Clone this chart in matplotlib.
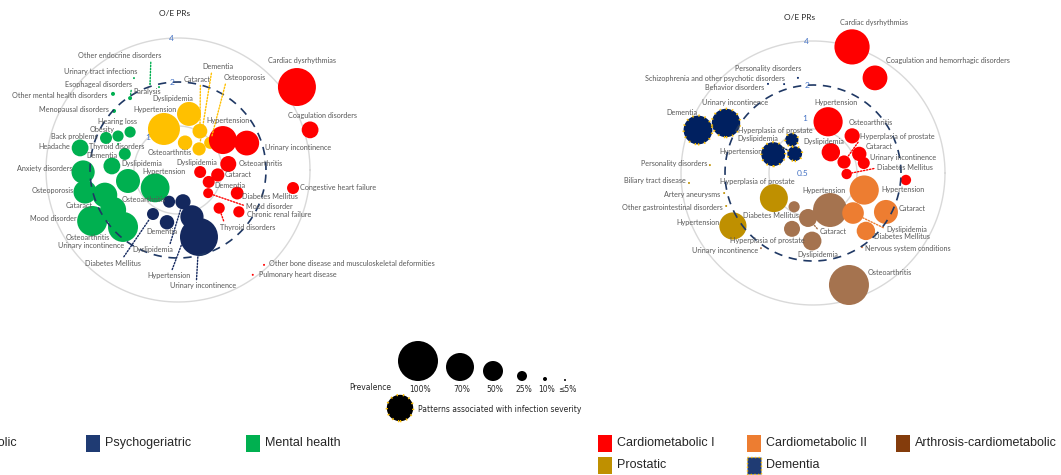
import numpy as np
import matplotlib.pyplot as plt
from matplotlib.patches import Rectangle

W, H = 1061, 475
PX = 0.72  # points per pixel at dpi 100

LABEL_FONT = ['Lato', 'DejaVu Sans']
LEGEND_FONT = ['Liberation Sans', 'DejaVu Sans']
TXT_GREY = '#595959'

# ---------------- left chart ----------------
# Cardiometabolic (red)
l_red_names = ['Cardiac dysrhythmias', 'Coagulation disorders', 'Hypertension', 'Urinary incontinence',
               'Osteoarthritis', 'Dyslipidemia', 'Cataract', 'Dementia', 'Mood disorder',
               'Diabetes Mellitus', 'Thyroid disorders', 'Chronic renal failure',
               'Congestive heart failure', 'Other bone disease and musculoskeletal deformities',
               'Pulmonary heart disease']
l_red_angle = [34.9, 16.9, 33.7, 21.4, 6.8, -5.2, -7.1, -21.2, -37.5, -21.3, -42.8, -34.5, -8.9, -47.8, -54.5]
l_red_oe = [4.91, 4.40, 1.17, 1.60, 1.11, 0.71, 0.94, 0.84, 0.91, 1.36, 1.21, 1.60, 3.13, 3.76, 3.80]
l_red_prev = [95, 42, 70, 62, 40, 30, 33, 30, 25, 32, 28, 28, 30, 5, 5]

# yellow group
l_yel_names = ['Hypertension', 'Dyslipidemia', 'Osteoarthritis', 'Cataract', 'Dementia', 'Osteoporosis']
l_yel_angle = [108.9, 78.9, 75.5, 60.6, 45.0, 40.2]
l_yel_oe = [0.99, 1.23, 0.78, 1.01, 0.80, 0.97]
l_yel_prev = [80, 60, 36, 37, 33, 30]

# Psychogeriatric (navy)
l_psy_names = ['Urinary incontinence', 'Hypertension', 'Dyslipidemia', 'Osteoarthritis', 'Dementia',
               'Diabetes Mellitus']
l_psy_angle = [-72.6, -73.4, -81.1, -105.7, -101.9, -119.6]
l_psy_oe = [1.51, 1.08, 0.83, 0.84, 1.16, 1.11]
l_psy_prev = [95, 58, 38, 30, 36, 30]

# Mental health (green)
l_men_names = ['Headache', 'Anxiety disorders', 'Osteoporosis', 'Cataract', 'Urinary incontinence',
               'Mood disorder', 'Osteoarthritis', 'Dementia', 'Dyslipidemia', '', 'Hypertension',
               'Back problems', 'Obesity', 'Hearing loss', 'Thyroid disorders', 'Other endocrine disorders',
               'Paralysis', 'Urinary tract infections', 'Esophageal disorders',
               'Other mental health disorders', 'Menopausal disorders']
l_men_angle = [167.3, 181.2, 193.3, 198.9, 211.6, 210.7, 226.0, 163.2, 176.5, 192.4, 218.0,
               156.0, 150.5, 141.6, 156.6, 108.0, 102.9, 115.6, 123.7, 130.5, 137.3]
l_men_oe = [2.43, 2.23, 2.25, 1.69, 1.66, 2.41, 1.74, 1.20, 1.42, 1.12, 0.79,
            1.73, 1.48, 1.31, 1.40, 2.08, 1.91, 2.49, 1.95, 2.42, 1.97]
l_men_prev = [42, 58, 58, 62, 65, 75, 75, 30, 42, 60, 72, 30, 28, 28, 5, 5, 5, 5, 10, 10, 10]

# ---------------- right chart ----------------
r_ca1_names = ['Cardiac dysrhythmias', 'Coagulation and hemorrhagic disorders', 'Hypertension',
               'Osteoarthritis', 'Dyslipidemia', 'Cataract', 'Hyperplasia of prostate',
               'Urinary incontinence', 'Diabetes Mellitus', '']
r_ca1_angle = [72.8, 56.9, 73.6, 43.5, 49.4, 22.4, 19.5, 11.1, -1.7, -4.3]
r_ca1_oe = [4.00, 2.99, 1.16, 1.17, 0.77, 1.10, 0.84, 1.13, 0.85, 2.17]
r_ca1_prev = [88, 62, 73, 38, 46, 36, 33, 30, 26, 26]

r_ca2_names = ['Hypertension', 'Cataract', 'Dyslipidemia', 'Diabetes Mellitus', 'Nervous system conditions']
r_ca2_angle = [-18.4, -28.1, -45.0, -47.6, -56.5]
r_ca2_oe = [1.17, 1.84, 1.22, 1.72, 2.03]
r_ca2_prev = [73, 60, 54, 46, 5]

r_art_names = ['Hypertension', 'Osteoarthritis', 'Diabetes Mellitus', 'Cataract', 'Hyperplasia of prostate',
               'Dyslipidemia', 'Urinary incontinence']
r_art_angle = [-65.3, -72.2, -119.2, -96.3, -110.6, -90.8, -124.7]
r_art_oe = [0.95, 3.19, 0.92, 1.02, 1.28, 1.46, 2.11]
r_art_prev = [85, 100, 28, 45, 40, 47, 5]

r_pro_names = ['Hyperplasia of prostate', 'Hypertension', 'Personality disorders', 'Biliary tract disease',
               'Artery aneurysms', 'Other gastrointestinal disorders']
r_pro_angle = [-147.3, -146.5, 175.6, 184.6, 192.7, 200.8]
r_pro_oe = [1.04, 2.27, 2.55, 3.55, 2.10, 2.16]
r_pro_prev = [70, 68, 5, 5, 5, 5]

r_dem_names = ['Dementia', 'Urinary incontinence', 'Hypertension', 'Hyperplasia of prostate', 'Dyslipidemia',
               'Personality disorders', 'Schizophrenia and other psychotic disorders', 'Behavior disorders']
r_dem_angle = [159.5, 150.1, 154.6, 122.5, 133.5, 99.0, 108.0, 116.8]
r_dem_oe = [3.46, 2.43, 1.00, 0.93, 0.76, 2.28, 2.18, 2.41]
r_dem_prev = [72, 71, 60, 33, 37, 5, 5, 5]

# prevalence key
key_prev = [100, 70, 50, 25, 10, 5]
key_text = ['100%', '70%', '50%', '25%', '10%', '\u22645%']

# ---------------- label layout (pixels: dx, dy down, align, leader relpos) ----------------
l_red_lbl = [(5, -27, 'center', None), (12, -14, 'center', None), (5, -20, 'center', None),
             (18, 4, 'left', None), (10, -1, 'left', None), (17, -10, 'right', None), (7, 0, 'left', None),
             (6, 4, 'left', None), (38, 13, 'left', (0, 0.5)), (5, 3, 'left', None),
             (1, 19, 'left', (0.08, 1)), (8, 3, 'left', None), (7, -1, 'left', None),
             (5, -1, 'left', None), (6, 0, 'left', None)]
l_yel_lbl = [(-9, -19, 'center', None), (-16, -15, 'center', None), (-15, 10, 'center', None),
             (-3, -52, 'center', (0.63, 0)), (19, -82, 'center', (0.3, 0)), (35, -65, 'center', (0.05, 0))]
l_psy_lbl = [(4, 49, 'center', (0.4, 1)), (-23, 59, 'center', (0.55, 1)), (-30, 48, 'center', (0.9, 1)),
             (-25, -2, 'center', None), (-5, 9, 'center', None), (-40, 49, 'center', (0.66, 1))]
l_men_lbl = [(-10, -1, 'right', None), (-11, -3, 'right', None), (-11, -1, 'right', None),
             (-12, 10, 'right', None), (-22, 36, 'center', None), (-16, -2, 'right', None),
             (-35, 11, 'center', None), (-7, 2, 'right', None), (10, -2, 'left', None), None,
             (9, -16, 'center', None), (-8, -1, 'right', None), (-16, -7, 'center', None),
             (-13, -11, 'center', None), (-1, 2, 'center', None), (-30, -28, 'center', (0.87, 0)),
             (-12, 4, 'center', None), (-33, -7, 'center', None), (-32, -14, 'center', (1, 0)),
             (-6, 2, 'right', None), (-5, -1, 'right', None)]

r_ca1_lbl = [(22, -24, 'center', None), (11, -17, 'left', None), (8, -19, 'center', None),
             (-4, -13, 'left', None), (-7, -11, 'center', None), (6, -7, 'left', None),
             (16, -26, 'left', (0, 0)), (6, -6, 'left', None), (30, -6, 'left', (0, 0.5)), None]
r_ca2_lbl = [(17, -1, 'left', None), (13, -3, 'left', None), (33, 16, 'left', (0, 0.5)),
             (8, 6, 'left', None), (3, 1, 'left', None)]
r_art_lbl = [(-6, -20, 'center', None), (19, -13, 'left', None), (5, 9, 'right', None),
             (12, 14, 'left', (0, 0.5)), (-25, 12, 'center', None), (6, 13, 'center', None),
             (-3, 2, 'right', None)]
r_pro_lbl = [(-17, -17, 'center', None), (-13, -4, 'right', None), (-3, -2, 'right', None),
             (-3, -2, 'right', None), (-4, 1, 'right', None), (-3, 2, 'right', None)]
r_dem_lbl = [(-16, -17, 'center', None), (9, -20, 'center', None), (-11, -3, 'right', None),
             (-16, -9, 'center', None), (-37, -15, 'center', (0.85, 0)), (-30, -9, 'center', None),
             (-69, -6, 'center', None), (-4, 4, 'right', None)]

RED, YEL, PSY, MEN = '#FF0000', '#FFC000', '#14285E', '#00B050'
ORA, ART, PRO, DEM = '#ED7D31', '#A5734F', '#BF9000', '#002060'
NAVY_RING = '#1F3864'


def bubble_pts(prev):
    # bubble diameter grows linearly with prevalence (100% -> 40 px)
    return np.asarray(prev) * 0.4 * PX


def polar_panel(rect):
    ax = fig.add_axes(rect, projection='polar')
    ax.set_rscale('log')
    ax.set_rlim(0.5, 7)
    ax.grid(False)
    ax.set_xticks([])
    ax.set_yticks([])
    ax.spines['polar'].set_visible(False)
    ax.patch.set_visible(False)
    t = np.linspace(0, 2 * np.pi, 500)
    ax.plot(t, np.full_like(t, 4.0), color='#D9D9D9', lw=1, zorder=0.5)
    ax.plot(t, np.full_like(t, 1.0), color='#D9D9D9', lw=1, zorder=0.5)
    ax.plot(t, np.full_like(t, 2.0), color=NAVY_RING, lw=1.2, ls=(0, (5, 4)), zorder=6)
    return ax


def draw_group(ax, names, angle, oe, prev, lbls, color, dementia=False):
    th = np.radians(angle)
    d = bubble_pts(prev)
    ax.scatter(th, oe, s=d ** 2, color=color, edgecolors='none', zorder=3, clip_on=False)
    if dementia:
        big = np.asarray(prev) >= 20
        ax.scatter(th[big], np.asarray(oe)[big], s=d[big] ** 2, facecolors='none', edgecolors=YEL,
                   linewidths=1.6, linestyles=(0, (0.6, 2.2)), zorder=3.5, clip_on=False)
    for nm, t, v, dd, lb in zip(names, th, oe, d, lbls):
        if lb is None or not nm:
            continue
        dx, dy, ha, lead = lb
        kw = {}
        if lead is not None:
            kw['arrowprops'] = dict(arrowstyle='-', ls=(0, (1, 1.2)), color=color, lw=1,
                                    shrinkA=0, shrinkB=dd / 2, relpos=lead)
        ax.annotate(nm, xy=(t, v), xytext=(dx * PX, -dy * PX), textcoords='offset points',
                    ha=ha, va='center', fontsize=5.2, color=TXT_GREY, family=LABEL_FONT,
                    zorder=7, annotation_clip=False, **kw)


fig = plt.figure(figsize=(W / 100, H / 100), dpi=100)

R_PX = 44 * np.log2(7 / 0.5)
axL = polar_panel([(178 - R_PX) / W, (H - 170 - R_PX) / H, 2 * R_PX / W, 2 * R_PX / H])
draw_group(axL, l_men_names, l_men_angle, l_men_oe, l_men_prev, l_men_lbl, MEN)
draw_group(axL, l_yel_names, l_yel_angle, l_yel_oe, l_yel_prev, l_yel_lbl, YEL)
draw_group(axL, l_red_names, l_red_angle, l_red_oe, l_red_prev, l_red_lbl, RED)
draw_group(axL, l_psy_names, l_psy_angle, l_psy_oe, l_psy_prev, l_psy_lbl, PSY)

axR = polar_panel([(813 - R_PX) / W, (H - 173 - R_PX) / H, 2 * R_PX / W, 2 * R_PX / H])
draw_group(axR, r_dem_names, r_dem_angle, r_dem_oe, r_dem_prev, r_dem_lbl, DEM, dementia=True)
draw_group(axR, r_pro_names, r_pro_angle, r_pro_oe, r_pro_prev, r_pro_lbl, PRO)
draw_group(axR, r_art_names, r_art_angle, r_art_oe, r_art_prev, r_art_lbl, ART)
draw_group(axR, r_ca2_names, r_ca2_angle, r_ca2_oe, r_ca2_prev, r_ca2_lbl, ORA)
draw_group(axR, r_ca1_names, r_ca1_angle, r_ca1_oe, r_ca1_prev, r_ca1_lbl, RED)

# ring labels
ring_kw = dict(color='#4472C4', fontsize=6, ha='center', va='center', family=LABEL_FONT, zorder=8)
for ax in (axL, axR):
    ax.text(np.radians(93), 4.0, '4', **ring_kw)
    ax.text(np.radians(94), 2.0, '2', **ring_kw)
axL.text(np.radians(133), 1.0, '1', **ring_kw)
axR.text(np.radians(99), 1.2, '1', **ring_kw)
axR.text(np.radians(180), 0.59, '0.5', **ring_kw)

# overlay in pixel coordinates for titles and legends
ov = fig.add_axes([0, 0, 1, 1])
ov.set_xlim(0, W)
ov.set_ylim(H, 0)
ov.axis('off')

ov.text(175, 14, 'O/E PRs', fontsize=6, ha='center', va='center', family=LABEL_FONT, color='#262626')
ov.text(800, 17, 'O/E PRs', fontsize=6, ha='center', va='center', family=LABEL_FONT, color='#262626')

# prevalence size key
key_x = [418, 460, 493, 522, 545, 565]
kd = bubble_pts(key_prev)
ov.scatter(key_x, [381 - p * 0.2 for p in key_prev], s=kd ** 2, color='black', edgecolors='none')
for x, t in zip(key_x, key_text):
    ov.text(x + 2, 389, t, fontsize=5.5, ha='center', va='center', family='DejaVu Sans', color='#262626')
ov.text(349, 387, 'Prevalence', fontsize=5.5, ha='left', va='center', family='DejaVu Sans', color='#262626')
ov.scatter([400], [408], s=bubble_pts([66])[0] ** 2, color='black', edgecolors='none')
ov.scatter([400], [408], s=bubble_pts([66])[0] ** 2, facecolors='none', edgecolors=YEL,
           linewidths=1.6, linestyles=(0, (0.6, 2.2)))
ov.text(418, 409, 'Patterns associated with infection severity', fontsize=5.5, ha='left', va='center',
        family='DejaVu Sans', color='#262626')

# group legends
leg_kw = dict(fontsize=9, ha='left', va='center', family=LEGEND_FONT, color='#262626')
ov.text(17, 443, 'Cardiometabolic', **dict(leg_kw, ha='right'))
for x, y, c, t in [(86, 443, '#1F3B73', 'Psychogeriatric'), (246, 443, MEN, 'Mental health'),
                   (598, 443, RED, 'Cardiometabolic I'), (747, 443, ORA, 'Cardiometabolic II'),
                   (896, 443, '#843C0C', 'Arthrosis-cardiometabolic'), (598, 465, PRO, 'Prostatic')]:
    ov.add_patch(Rectangle((x, y - 8.5), 14, 17, color=c, lw=0))
    ov.text(x + 19, y, t, **leg_kw)
ov.add_patch(Rectangle((747, 465 - 8.5), 14, 17, facecolor='#1F3B73', edgecolor=YEL, lw=1, ls=':'))
ov.text(766, 465, 'Dementia', **leg_kw)

fig.savefig('out.png', dpi=100)
